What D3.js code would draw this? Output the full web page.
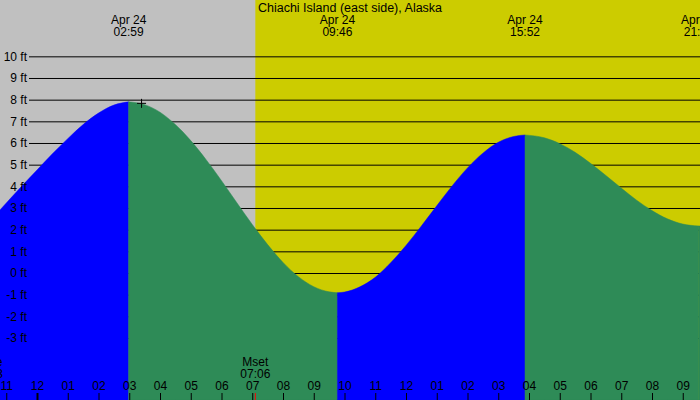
<!DOCTYPE html>
<html>
<head>
<meta charset="utf-8">
<script src="https://cdn.jsdelivr.net/npm/d3@7"></script>
<style>
  body { margin: 0; background: #ffffff; }
  svg { display: block; font-family: "Liberation Sans", Arial, sans-serif; }
</style>
</head>
<body>
<div id="tide-chart"></div>
<script>
(function(d3) {
  'use strict';

  //data
  var title = 'Chiachi Island (east side), Alaska';

  //hours since midnight Apr 24, tide height in feet
  var tideHours = [-1.21, -0.5, 0, 0.5, 1, 1.5, 2, 2.5, 2.98, 3.5, 4, 4.5, 5, 5.5, 6, 6.5,
    7, 7.5, 8, 8.5, 9, 9.5, 9.77, 10, 10.5, 11, 11.5, 12, 12.5, 13, 13.5, 14, 14.5, 15,
    15.5, 15.87, 16.5, 17, 17.5, 18, 18.5, 19, 19.5, 20, 20.5, 21, 21.52, 21.6];
  var tideFeet = [2.9, 4.0, 4.75, 5.5, 6.2, 6.85, 7.38, 7.75, 7.9, 7.77, 7.42, 6.85, 6.11,
    5.23, 4.26, 3.24, 2.24, 1.31, 0.49, -0.17, -0.63, -0.87, -0.91, -0.88, -0.64, -0.2,
    0.47, 1.27, 2.17, 3.1, 4.02, 4.85, 5.53, 6.03, 6.3, 6.37, 6.24, 5.97, 5.57, 5.06, 4.5,
    3.92, 3.36, 2.88, 2.5, 2.26, 2.17, 2.17];

  //high / low tide labels along the top
  var extremeHours = [2.98, 9.77, 15.87, 21.52];
  var extremeDates = ['Apr 24', 'Apr 24', 'Apr 24', 'Apr 24'];
  var extremeTimes = ['02:59', '09:46', '15:52', '21:31'];

  //moon events along the bottom
  var moonHours = [-1.6, 7.1];
  var moonNames = ['Mrise', 'Mset'];
  var moonTimes = ['22:23', '07:06'];

  //feet gridlines
  var feetTicks = [-3, -2, -1, 0, 1, 2, 3, 4, 5, 6, 7, 8, 9, 10];

  //hour ticks
  var hourTicks = [-1, 0, 1, 2, 3, 4, 5, 6, 7, 8, 9, 10, 11, 12, 13, 14, 15, 16, 17, 18, 19, 20, 21];
  var hourLabels = ['11', '12', '01', '02', '03', '04', '05', '06', '07', '08', '09', '10',
    '11', '12', '01', '02', '03', '04', '05', '06', '07', '08', '09'];

  //marker (+) on the curve
  var markerHour = [3.4];
  var markerFeet = [7.83];

  //Sizes
  var width = 700;
  var height = 400;
  var gridLeft = 29;

  //Colors
  var nightColor = '#c0c0c0';
  var dayColor = '#cccc00';
  var risingColor = '#0000ff';
  var fallingColor = '#2e8b57';

  var x = d3.scaleLinear()
    .domain([-1.2033, 21.5609])
    .range([0, width]);

  var y = d3.scaleLinear()
    .domain([0, 10])
    .range([273, 56.33]);

  var svg = d3.select('#tide-chart').append('svg')
    .attr('width', width)
    .attr('height', height);

  //background: grey until moonset, yellow after
  svg.append('rect')
    .attr('x', 0).attr('y', 0)
    .attr('width', width).attr('height', height)
    .attr('fill', nightColor);
  svg.append('rect')
    .attr('x', x(moonHours[1])).attr('y', 0)
    .attr('width', width - x(moonHours[1])).attr('height', height)
    .attr('fill', dayColor);

  //gridlines
  var grid = svg.append('g')
    .attr('transform', 'translate(' + gridLeft + ',0)')
    .call(d3.axisLeft(y).tickValues(feetTicks).tickSize(-(width - gridLeft)).tickFormat(''));
  grid.select('.domain').remove();
  grid.selectAll('line').attr('stroke', '#000').attr('stroke-width', 1);

  //tide fill split at each high/low
  var points = tideHours.map(function(h, i) { return {h: h, v: tideFeet[i]}; });
  var breaks = [tideHours[0]].concat(extremeHours);
  if (breaks[breaks.length - 1] < tideHours[tideHours.length - 1]) {
    breaks.push(tideHours[tideHours.length - 1]);
  }

  var area = d3.area()
    .x(function(d) { return x(d.h); })
    .y0(height)
    .y1(function(d) { return y(d.v); })
    .curve(d3.curveMonotoneX);

  for (var i = 0; i < breaks.length - 1; i++) {
    var seg = points.filter(function(d) { return d.h >= breaks[i] && d.h <= breaks[i + 1]; });
    if (seg.length < 2) continue;
    var rising = seg[seg.length - 1].v > seg[0].v;
    svg.append('path')
      .datum(seg)
      .attr('d', area)
      .attr('fill', rising ? risingColor : fallingColor)
      .attr('stroke', rising ? risingColor : fallingColor)
      .attr('stroke-width', 0.5);
  }

  //feet labels on top of the fill
  var feetAxis = svg.append('g')
    .attr('transform', 'translate(' + gridLeft + ',0)')
    .call(d3.axisLeft(y).tickValues(feetTicks).tickSize(0).tickPadding(2)
      .tickFormat(function(d) { return String(d) + ' ft'; }));
  feetAxis.select('.domain').remove();
  feetAxis.selectAll('text')
    .attr('fill', '#000')
    .style('font-size', '12px')
    .style('font-family', '"Liberation Sans", Arial, sans-serif');

  //title
  svg.append('text')
    .attr('x', width / 2)
    .attr('y', 12)
    .attr('text-anchor', 'middle')
    .style('font-size', '12.5px')
    .text(title);

  //high / low labels
  var tops = svg.selectAll('.extreme')
    .data(extremeHours)
    .enter().append('text')
    .attr('class', 'extreme')
    .attr('text-anchor', 'middle')
    .style('font-size', '12px');
  tops.append('tspan')
    .attr('x', function(d) { return x(d); })
    .attr('y', 24)
    .text(function(d, i) { return extremeDates[i]; });
  tops.append('tspan')
    .attr('x', function(d) { return x(d); })
    .attr('y', 35.5)
    .text(function(d, i) { return extremeTimes[i]; });

  //moon labels
  var moons = svg.selectAll('.moon')
    .data(moonHours)
    .enter().append('text')
    .attr('class', 'moon')
    .attr('text-anchor', 'middle')
    .style('font-size', '12px');
  moons.append('tspan')
    .attr('x', function(d) { return x(d); })
    .attr('y', 365.5)
    .text(function(d, i) { return moonNames[i]; });
  moons.append('tspan')
    .attr('x', function(d) { return x(d); })
    .attr('y', 377.5)
    .text(function(d, i) { return moonTimes[i]; });

  //hour axis along the bottom
  var hourAxis = svg.append('g')
    .attr('transform', 'translate(0,' + height + ')')
    .call(d3.axisTop(x).tickValues(hourTicks).tickSize(7).tickPadding(3)
      .tickFormat(function(d, i) { return hourLabels[i]; }));
  hourAxis.select('.domain').remove();
  hourAxis.selectAll('line')
    .attr('stroke', '#000')
    .attr('stroke-width', function(d) { return d === 0 ? 2 : 1; });
  hourAxis.selectAll('text')
    .attr('fill', '#000')
    .style('font-size', '12px')
    .style('font-family', '"Liberation Sans", Arial, sans-serif');

  //moonset tick in red
  svg.append('line')
    .attr('x1', x(moonHours[1])).attr('x2', x(moonHours[1]))
    .attr('y1', height - 7).attr('y2', height)
    .attr('stroke', '#ff0000')
    .attr('stroke-width', 1);

  //marker
  svg.selectAll('.marker')
    .data(markerHour)
    .enter().append('path')
    .attr('class', 'marker')
    .attr('d', function(d, i) {
      var cx = x(d), cy = y(markerFeet[i]);
      return 'M' + (cx - 4.5) + ',' + cy + 'H' + (cx + 4.5) +
        'M' + cx + ',' + (cy - 4.5) + 'V' + (cy + 4.5);
    })
    .attr('stroke', '#000')
    .attr('stroke-width', 1)
    .attr('fill', 'none');
})(window.d3);
</script>
</body>
</html>
